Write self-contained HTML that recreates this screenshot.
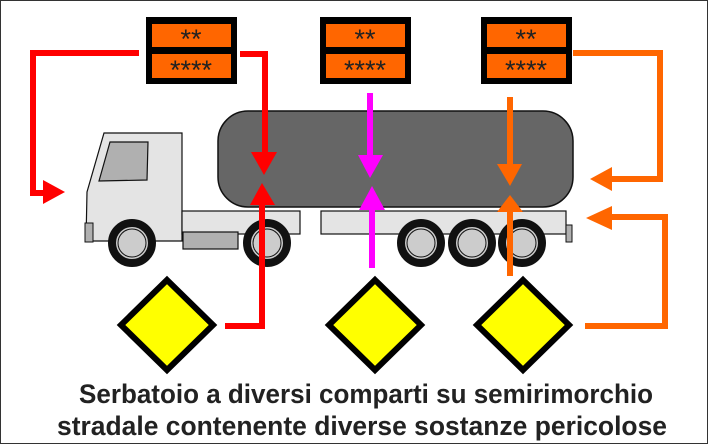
<!DOCTYPE html>
<html><head><meta charset="utf-8"><style>
html,body{margin:0;padding:0;background:#fff}
svg{display:block}
</style></head><body>
<svg width="708" height="444" viewBox="0 0 708 444" xmlns="http://www.w3.org/2000/svg">
<rect x="0.5" y="0.5" width="707" height="443" fill="#fff" stroke="#333" stroke-width="1"/>
<!-- tank -->
<rect x="218" y="111" width="355" height="96" rx="30" ry="30" fill="#666" stroke="#111" stroke-width="1.5"/>
<!-- cab -->
<polygon points="104,133 182,133 182,241 86,241 87,192" fill="#e4e4e4" stroke="#111" stroke-width="1.2"/>
<polygon points="110,142 148,142 147,180 99,181" fill="#b0b0b0" stroke="#111" stroke-width="1.2"/>
<rect x="182" y="211" width="118" height="23" fill="#e4e4e4" stroke="#111" stroke-width="1.2"/>
<rect x="321" y="211" width="245" height="23" fill="#e4e4e4" stroke="#111" stroke-width="1.2"/>
<rect x="183" y="232" width="55" height="17" fill="#b0b0b0" stroke="#111" stroke-width="1.2"/>
<rect x="85" y="223" width="8" height="19" fill="#b0b0b0" stroke="#111" stroke-width="1"/>
<rect x="566" y="225" width="6" height="17" fill="#b0b0b0" stroke="#111" stroke-width="1"/>
<!-- wheels -->
<g stroke="#111">
<circle cx="132" cy="243" r="20" fill="#ccc" stroke-width="8"/>
<circle cx="132" cy="243" r="14" fill="#ccc" stroke-width="1"/>
<circle cx="267" cy="243" r="20" fill="#ccc" stroke-width="8"/>
<circle cx="267" cy="243" r="14" fill="#ccc" stroke-width="1"/>
<circle cx="421" cy="243" r="20" fill="#ccc" stroke-width="8"/>
<circle cx="421" cy="243" r="14" fill="#ccc" stroke-width="1"/>
<circle cx="472" cy="243" r="20" fill="#ccc" stroke-width="8"/>
<circle cx="472" cy="243" r="14" fill="#ccc" stroke-width="1"/>
<circle cx="522" cy="243" r="20" fill="#ccc" stroke-width="8"/>
<circle cx="522" cy="243" r="14" fill="#ccc" stroke-width="1"/>
</g>
<!-- plates -->
<g font-family="Liberation Sans, sans-serif" font-size="27" fill="#222" text-anchor="middle">
<rect x="146" y="17" width="91" height="67" fill="#000"/>
<rect x="152" y="24" width="79" height="23" fill="#f60"/>
<rect x="152" y="54" width="79" height="24" fill="#f60"/>
<text x="191" y="48">**</text><text x="191" y="79">****</text>
<rect x="320" y="17" width="91" height="67" fill="#000"/>
<rect x="326" y="24" width="79" height="23" fill="#f60"/>
<rect x="326" y="54" width="79" height="24" fill="#f60"/>
<text x="365" y="48">**</text><text x="365" y="79">****</text>
<rect x="481" y="17" width="91" height="67" fill="#000"/>
<rect x="487" y="24" width="79" height="23" fill="#f60"/>
<rect x="487" y="54" width="79" height="24" fill="#f60"/>
<text x="526" y="48">**</text><text x="526" y="79">****</text>
</g>
<!-- red arrows -->
<g fill="none" stroke="#f00" stroke-width="6">
<polyline points="139,53 33,53 33,193 45,193"/>
<polyline points="240,54 265,54 265,155"/>
<polyline points="225,326 262,326 262,200"/>
</g>
<g fill="#f00">
<polygon points="43,180 65,192 43,204"/>
<polygon points="251,152 277,152 264,175"/>
<polygon points="250,205 275,205 262,183"/>
</g>
<!-- magenta -->
<g stroke="#f0f" stroke-width="6" fill="none">
<line x1="370" y1="93" x2="370" y2="160"/>
<line x1="372" y1="268" x2="372" y2="200"/>
</g>
<g fill="#f0f">
<polygon points="358,155 383,155 370,178"/>
<polygon points="359,210 385,210 372,186"/>
</g>
<!-- orange -->
<g stroke="#f60" stroke-width="6" fill="none">
<line x1="510" y1="97" x2="510" y2="168"/>
<line x1="510" y1="276" x2="510" y2="210"/>
<polyline points="573,53 660,53 660,179 605,179"/>
<polyline points="605,217 665,217 665,326 585,326"/>
</g>
<g fill="#f60">
<polygon points="497,164 522,164 510,186"/>
<polygon points="497,212 523,212 510,195"/>
<polygon points="612,167 612,191 590,179"/>
<polygon points="612,206 612,230 586,218"/>
</g>
<!-- diamonds -->
<g fill="#ff0" stroke="#000" stroke-width="6">
<polygon points="167,280 213,325 167,370 121,325"/>
<polygon points="375,280 421,325 375,370 329,325"/>
<polygon points="523,280 569,325 523,370 477,325"/>
</g>
<g font-family="Liberation Sans, sans-serif" font-size="27" font-weight="bold" fill="#222" text-anchor="middle">
<text x="366" y="403" textLength="574" lengthAdjust="spacingAndGlyphs">Serbatoio a diversi comparti su semirimorchio</text>
<text x="362" y="435" textLength="610" lengthAdjust="spacingAndGlyphs">stradale contenente diverse sostanze pericolose</text>
</g>
</svg>
</body></html>
